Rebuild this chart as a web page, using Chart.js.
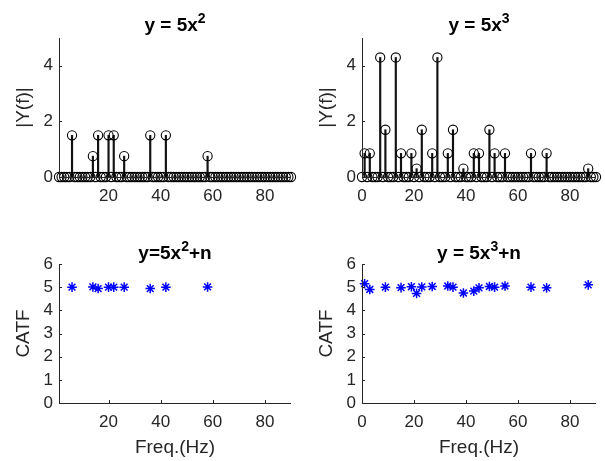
<!DOCTYPE html>
<html>
<head>
<meta charset="utf-8">
<script src="https://cdn.jsdelivr.net/npm/chart.js@4.4.1/dist/chart.umd.min.js"></script>
<style>
    html, body {margin: 0; padding: 0; background: #fff;}
    #wrap {position: relative; width: 605px; height: 461px; overflow: hidden;}
    canvas {position: absolute;}
</style>
</head>
<body>
<div id="wrap">
    <canvas id="c-tl" style="left:0;top:0" width="302" height="230"></canvas>
    <canvas id="c-tr" style="left:302px;top:0" width="303" height="230"></canvas>
    <canvas id="c-bl" style="left:0;top:230px" width="302" height="231"></canvas>
    <canvas id="c-br" style="left:302px;top:230px" width="303" height="231"></canvas>
</div>
<script>
// frequency grids (Hz) of the spectra
const gridSquare = Array.from({length: 90}, (_, i) => i + 1);
const gridCube = Array.from({length: 91}, (_, i) => i);

// y = 5x^2 : peaks in |Y(f)|
const sqFreq = [6, 14, 16, 20, 22, 26, 36, 42, 58];
const sqAmp = [1.5, 0.75, 1.5, 1.5, 1.5, 0.75, 1.5, 1.5, 0.75];
// y = 5x^2 + n : CATF
const sqCatf = [5.0, 5.01, 4.94, 5.0, 5.0, 5.0, 4.94, 5.0, 5.01];

// y = 5x^3 : peaks in |Y(f)|
const cuFreq = [1, 3, 7, 9, 13, 15, 19, 21, 23, 27, 29, 33, 35, 39, 43, 45, 49, 51, 55, 65, 71, 87];
const cuAmp = [0.85, 0.85, 4.3, 1.7, 4.3, 0.85, 0.85, 0.3, 1.7, 0.85, 4.3, 0.85, 1.7, 0.3, 0.85, 0.85, 1.7, 0.85, 0.85, 0.85, 0.85, 0.3];
// y = 5x^3 + n : CATF
const cuCatfFreq = [1, 3, 9, 15, 19, 21, 23, 27, 33, 35, 39, 43, 45, 49, 51, 55, 65, 71, 87];
const cuCatf = [5.15, 4.9, 5.0, 4.98, 5.02, 4.73, 5.01, 5.03, 5.05, 5.0, 4.75, 4.83, 4.97, 5.03, 5.0, 5.05, 5.0, 4.97, 5.1];

// tick labels
const xTicksSquare = [20, 40, 60, 80];
const xTicksCube = [0, 20, 40, 60, 80];
const yTicksSpec = [0, 2, 4];
const yTicksCatf = [0, 1, 2, 3, 4, 5, 6];

const FONT = "'Liberation Sans', Arial, Helvetica, sans-serif";
const AXIS = '#262626';

const pts = (xs, ys) => xs.map((x, i) => ({x: x, y: ys[i]}));
const onGrid = (grid, xs, ys) => grid.map(f => {
    const k = xs.indexOf(f);
    return {x: f, y: k >= 0 ? ys[k] : 0};
});

// matlab-like axes: left/bottom lines, inward ticks, title with superscript, axis labels
const matlabAxes = {
    id: 'matlabAxes',
    afterDraw(chart, args, opts) {
        const ctx = chart.ctx;
        const a = chart.chartArea;
        const xs = chart.scales.x, ys = chart.scales.y;
        ctx.save();
        ctx.strokeStyle = AXIS;
        ctx.lineWidth = 1;
        ctx.beginPath();
        ctx.moveTo(a.left + 0.5, a.top);
        ctx.lineTo(a.left + 0.5, a.bottom + 0.5);
        ctx.lineTo(a.right, a.bottom + 0.5);
        xs.ticks.forEach(t => {
            const px = Math.round(xs.getPixelForValue(t.value)) + 0.5;
            ctx.moveTo(px, a.bottom);
            ctx.lineTo(px, a.bottom - 3);
        });
        ys.ticks.forEach(t => {
            const py = Math.round(ys.getPixelForValue(t.value)) + 0.5;
            ctx.moveTo(a.left, py);
            ctx.lineTo(a.left + 3, py);
        });
        ctx.stroke();

        // title
        const cx = (a.left + a.right) / 2;
        const base = a.top - opts.titleGap;
        const big = 'bold 19px ' + FONT, small = 'bold 14px ' + FONT;
        let w = 0;
        opts.title.forEach(p => {
            ctx.font = p.sup ? small : big;
            w += ctx.measureText(p.t).width;
        });
        let x = cx - w / 2;
        ctx.fillStyle = '#000';
        ctx.textBaseline = 'alphabetic';
        ctx.textAlign = 'left';
        opts.title.forEach(p => {
            ctx.font = p.sup ? small : big;
            ctx.fillText(p.t, x, p.sup ? base - 8 : base);
            x += ctx.measureText(p.t).width;
        });

        // axis labels
        ctx.fillStyle = AXIS;
        ctx.font = '19px ' + FONT;
        ctx.textAlign = 'center';
        ctx.textBaseline = 'middle';
        if (opts.xLabel) {
            ctx.fillText(opts.xLabel, cx, a.bottom + 45);
        }
        ctx.save();
        ctx.translate(a.left - 35, (a.top + a.bottom) / 2);
        ctx.rotate(-Math.PI / 2);
        ctx.fillText(opts.yLabel, 0, 0);
        ctx.restore();
        ctx.restore();
    }
};

function makeChart(id, cfg) {
    const ctx = document.getElementById(id).getContext('2d');
    const datasets = [];
    if (cfg.stems) {
        datasets.push({
            type: 'bar',
            data: cfg.stems,
            backgroundColor: '#111',
            barThickness: 1.5,
            order: 2
        });
    }
    datasets.push({
        type: 'scatter',
        data: cfg.marks,
        pointStyle: cfg.marker,
        pointRadius: cfg.marker === 'star' ? 4.8 : 4.6,
        pointBorderWidth: cfg.marker === 'star' ? 1.5 : 1.1,
        borderColor: cfg.color,
        backgroundColor: 'rgba(0,0,0,0)',
        clip: false,
        order: 1
    });

    return new Chart(ctx, {
        type: 'scatter',
        data: {datasets: datasets},
        plugins: [matlabAxes],
        options: {
            responsive: false,
            animation: false,
            events: [],
            layout: {
                autoPadding: false,
                padding: {left: 0, top: cfg.top, right: cfg.right, bottom: 0}
            },
            plugins: {
                legend: {display: false},
                tooltip: {enabled: false},
                title: {display: false},
                matlabAxes: {title: cfg.title, titleGap: cfg.titleGap, xLabel: cfg.xLabel, yLabel: cfg.yLabel}
            },
            scales: {
                x: {
                    type: 'linear',
                    min: cfg.xMin,
                    max: 90,
                    offset: false,
                    grid: {display: false, drawTicks: false},
                    border: {display: false},
                    afterBuildTicks: s => { s.ticks = cfg.xTicks.map(v => ({value: v})); },
                    afterFit: s => { s.height = cfg.xHeight; },
                    ticks: {color: AXIS, font: {family: FONT, size: 17}, padding: 9, maxRotation: 0, autoSkip: false}
                },
                y: {
                    type: 'linear',
                    min: 0,
                    max: cfg.yMax,
                    grid: {display: false, drawTicks: false},
                    border: {display: false},
                    afterBuildTicks: s => { s.ticks = cfg.yTicks.map(v => ({value: v})); },
                    afterFit: s => { s.width = cfg.yWidth; },
                    ticks: {color: AXIS, font: {family: FONT, size: 17}, padding: 6, autoSkip: false}
                }
            }
        }
    });
}

makeChart('c-tl', {
    stems: pts(sqFreq, sqAmp),
    marks: onGrid(gridSquare, sqFreq, sqAmp),
    marker: 'circle', color: '#000',
    xMin: 1, xTicks: xTicksSquare, yMax: 5, yTicks: yTicksSpec,
    top: 38, right: 11, yWidth: 59, xHeight: 53,
    title: [{t: 'y = 5x'}, {t: '2', sup: true}], titleGap: 7,
    yLabel: '|Y(f)|'
});

makeChart('c-tr', {
    stems: pts(cuFreq, cuAmp),
    marks: onGrid(gridCube, cuFreq, cuAmp),
    marker: 'circle', color: '#000',
    xMin: 0, xTicks: xTicksCube, yMax: 5, yTicks: yTicksSpec,
    top: 38, right: 9, yWidth: 60, xHeight: 53,
    title: [{t: 'y = 5x'}, {t: '3', sup: true}], titleGap: 7,
    yLabel: '|Y(f)|'
});

makeChart('c-bl', {
    marks: pts(sqFreq, sqCatf),
    marker: 'star', color: '#0000ff',
    xMin: 1, xTicks: xTicksSquare, yMax: 6, yTicks: yTicksCatf,
    top: 34, right: 11, yWidth: 59, xHeight: 58,
    title: [{t: 'y=5x'}, {t: '2', sup: true}, {t: '+n'}], titleGap: 5,
    xLabel: 'Freq.(Hz)', yLabel: 'CATF'
});

makeChart('c-br', {
    marks: pts(cuCatfFreq, cuCatf),
    marker: 'star', color: '#0000ff',
    xMin: 0, xTicks: xTicksCube, yMax: 6, yTicks: yTicksCatf,
    top: 34, right: 9, yWidth: 60, xHeight: 58,
    title: [{t: 'y = 5x'}, {t: '3', sup: true}, {t: '+n'}], titleGap: 5,
    xLabel: 'Freq.(Hz)', yLabel: 'CATF'
});
</script>
</body>
</html>
